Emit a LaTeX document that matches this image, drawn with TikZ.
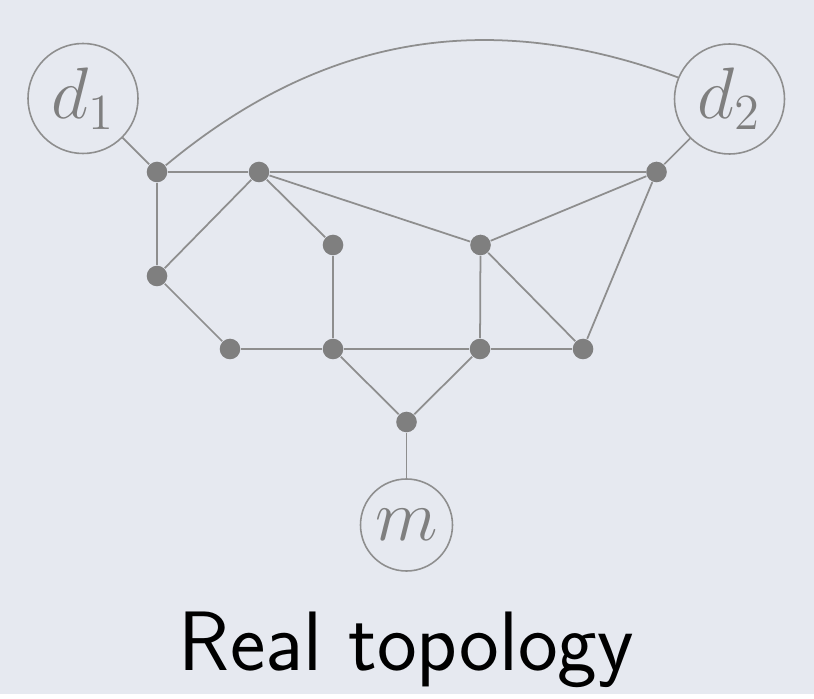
\documentclass[tikz,border=0pt]{standalone}
\begin{document}
\begin{tikzpicture}[x=1cm,y=1cm]
  \definecolor{paper}{HTML}{E6E9F0}
  \definecolor{router}{HTML}{7F7F7F}
  \definecolor{wire}{HTML}{8E8E8E}
  \tikzset{
    rtr/.style={circle,fill=router,inner sep=0pt,minimum size=0.206cm},
    host/.style={circle,draw=wire,line width=0.45pt,text=router,inner sep=0pt,
      font=\fontsize{21}{24}\selectfont},
    link/.style={draw=wire,line width=0.5pt}
  }
  \fill[paper] (0,0) rectangle (8.14,6.94);
  % routers of the network
  \foreach \n/\x/\y in {a/1.57/5.22, b/2.59/5.22, c/6.565/5.22,
                        d/3.33/4.49, e/4.805/4.49, f/1.57/4.18,
                        g/2.30/3.45, h/3.33/3.45, i/4.80/3.45, j/5.83/3.45,
                        k/4.065/2.72}{
    \node[rtr] (\n) at (\x,\y) {};
  }
  % end hosts
  \node[host,minimum size=1.10cm] (d1) at (0.83,5.955) {$d_1$};
  \node[host,minimum size=1.10cm] (d2) at (7.295,5.95) {$d_2$};
  \node[host,minimum size=0.92cm] (m) at (4.065,1.69) {$m$};
  % links
  \foreach \u/\v in {d1/a, a/b, b/c, c/d2, a/f, f/b, f/g, g/h, h/i, i/j,
                     b/d, d/h, b/e, e/c, e/i, e/j, c/j, h/k, i/k, k/m}{
    \draw[link] (\u) -- (\v);
  }
  \draw[link] (a) to[bend left=30] (d2);
  \node[anchor=base,font=\sffamily\fontsize{24}{29}\selectfont] (title)
    at (4.065,0.24) {Real topology};
  \path[use as bounding box] (0,0) rectangle (8.14,6.94);
\end{tikzpicture}
\end{document}
